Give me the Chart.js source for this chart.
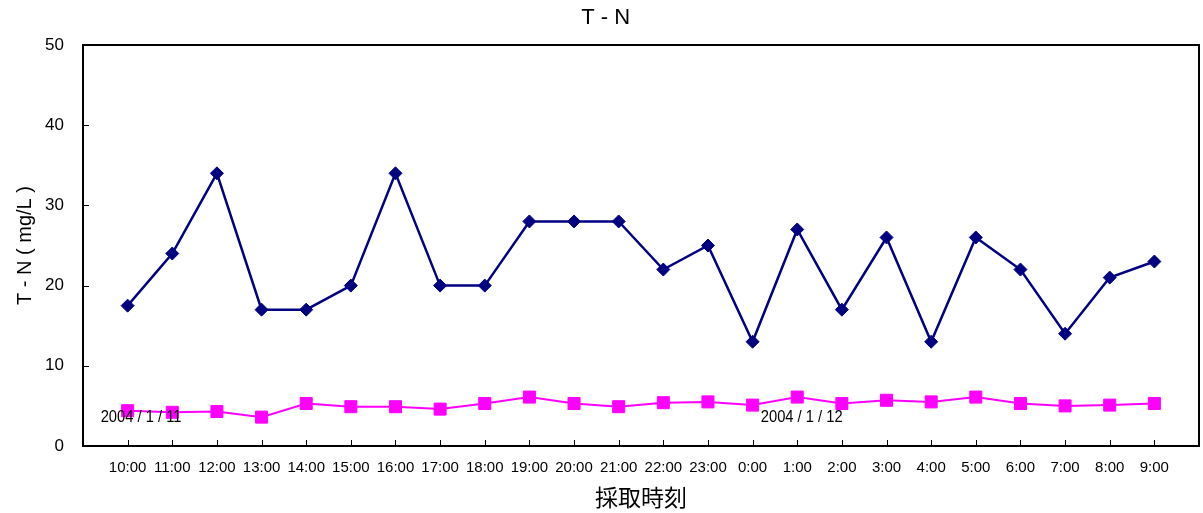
<!DOCTYPE html>
<html>
<head>
<meta charset="utf-8">
<script src="https://cdn.jsdelivr.net/npm/chart.js@4/dist/chart.umd.min.js"></script>
<style>
  html, body { margin: 0; padding: 0; background: #ffffff; }
  #wrap { width: 1203px; height: 513px; }
</style>
</head>
<body>
<div id="wrap"><canvas id="chart" width="1203" height="513"></canvas></div>
<script>
// Sampling times (hourly, 2004/1/11 10:00 through 2004/1/12 9:00)
const times = ['10:00', '11:00', '12:00', '13:00', '14:00', '15:00', '16:00', '17:00',
  '18:00', '19:00', '20:00', '21:00', '22:00', '23:00', '0:00', '1:00', '2:00', '3:00',
  '4:00', '5:00', '6:00', '7:00', '8:00', '9:00'];

// T-N concentration (mg/L), upper series
const tnHigh = [17.5, 24, 34, 17, 17, 20, 34, 20, 20, 28, 28, 28, 22, 25, 13, 27, 17, 26,
  13, 26, 22, 14, 21, 23];

// T-N concentration (mg/L), lower series
const tnLow = [4.4, 4.2, 4.3, 3.6, 5.3, 4.9, 4.9, 4.6, 5.3, 6.1, 5.3, 4.9, 5.4, 5.5, 5.1,
  6.1, 5.3, 5.7, 5.5, 6.1, 5.3, 5.0, 5.1, 5.3];

// Y axis ticks
const yTicks = [0, 10, 20, 30, 40, 50];

// Date captions shown inside the plot
const dateCaptions = ['2004 / 1 / 11', '2004 / 1 / 12'];

const LATIN = '"Liberation Sans", Arial, sans-serif';
const CJK = '"Noto Sans CJK JP", "Liberation Sans", sans-serif';

const toPoints = arr => arr.map((v, i) => ({ x: i, y: v }));

// Frame around the plot, inward tick marks and the date captions
const framePlugin = {
  id: 'frame',
  beforeDatasetsDraw(chart) {
    const { ctx, chartArea: a, scales: { x, y } } = chart;
    ctx.save();
    ctx.strokeStyle = '#000000';
    ctx.lineWidth = 1;
    ctx.beginPath();
    yTicks.forEach(v => {
      const py = Math.round(y.getPixelForValue(v)) + 0.5;
      ctx.moveTo(a.left, py);
      ctx.lineTo(a.left + 6, py);
    });
    times.forEach((t, i) => {
      const px = Math.round(x.getPixelForValue(i)) + 0.5;
      ctx.moveTo(px, a.bottom);
      ctx.lineTo(px, a.bottom - 6);
    });
    ctx.stroke();
    ctx.lineWidth = 2;
    ctx.strokeRect(a.left, a.top, a.right - a.left, a.bottom - a.top);
    ctx.restore();
  },
  afterDatasetsDraw(chart) {
    const { ctx, scales: { x, y } } = chart;
    const spots = [{ x: 0.3, y: 3.6 }, { x: 15.1, y: 3.6 }];
    ctx.save();
    ctx.fillStyle = '#000000';
    ctx.font = '16px ' + LATIN;
    ctx.textAlign = 'center';
    ctx.textBaseline = 'middle';
    dateCaptions.forEach((txt, i) => {
      ctx.save();
      ctx.translate(x.getPixelForValue(spots[i].x), y.getPixelForValue(spots[i].y));
      ctx.scale(0.92, 1);
      ctx.fillText(txt, 0, 0);
      ctx.restore();
    });
    ctx.restore();
  }
};

new Chart(document.getElementById('chart'), {
  type: 'line',
  data: {
    datasets: [
      {
        label: 'T-N 1',
        data: toPoints(tnHigh),
        borderColor: '#000080',
        backgroundColor: '#000080',
        borderWidth: 2.5,
        pointStyle: 'rectRot',
        pointRadius: 6.5,
        pointBorderWidth: 1,
        tension: 0
      },
      {
        label: 'T-N 2',
        data: toPoints(tnLow),
        borderColor: '#ff00ff',
        backgroundColor: '#ff00ff',
        borderWidth: 2,
        pointStyle: 'rect',
        pointRadius: 8.5,
        pointBorderWidth: 1,
        tension: 0
      }
    ]
  },
  options: {
    responsive: false,
    animation: false,
    devicePixelRatio: 1,
    layout: { autoPadding: false, padding: { left: 0, right: 4, top: 0, bottom: 0 } },
    plugins: {
      legend: { display: false },
      tooltip: { enabled: false },
      title: {
        display: true,
        text: '\u00a0\u00a0T - N',
        color: '#000000',
        font: { family: LATIN, size: 22, weight: 'normal', lineHeight: 1.2 },
        padding: { top: 5, bottom: 13.6 }
      }
    },
    scales: {
      x: {
        type: 'linear',
        min: -1,
        max: 24,
        grid: {
          display: true,
          drawOnChartArea: false,
          drawTicks: true,
          tickLength: 13,
          tickColor: 'rgba(0,0,0,0)'
        },
        border: { display: false },
        afterFit(scale) { scale.height = 67; },
        afterBuildTicks(scale) {
          const vals = [-1, ...times.map((t, i) => i), times.length];
          scale.ticks = vals.map(v => ({ value: v }));
        },
        ticks: {
          autoSkip: false,
          maxRotation: 0,
          padding: 0,
          color: '#000000',
          font: { family: LATIN, size: 15 },
          callback: v => times[v] ?? ''
        },
        title: {
          display: true,
          text: '採取時刻',
          color: '#000000',
          font: { family: CJK, size: 23, lineHeight: 1.2 },
          padding: { top: 0, bottom: 2 }
        }
      },
      y: {
        min: 0,
        max: 50,
        grid: { display: false, drawTicks: false },
        border: { display: false },
        afterFit(scale) { scale.width = 83; },
        afterBuildTicks(scale) {
          scale.ticks = yTicks.map(v => ({ value: v }));
        },
        ticks: {
          padding: 19,
          color: '#000000',
          font: { family: LATIN, size: 17 }
        },
        title: {
          display: true,
          text: 'T - N ( mg/L )',
          color: '#000000',
          font: { family: LATIN, size: 20, lineHeight: 1.2 },
          padding: { top: 13, bottom: 0 }
        }
      }
    }
  },
  plugins: [framePlugin]
});
</script>
</body>
</html>
